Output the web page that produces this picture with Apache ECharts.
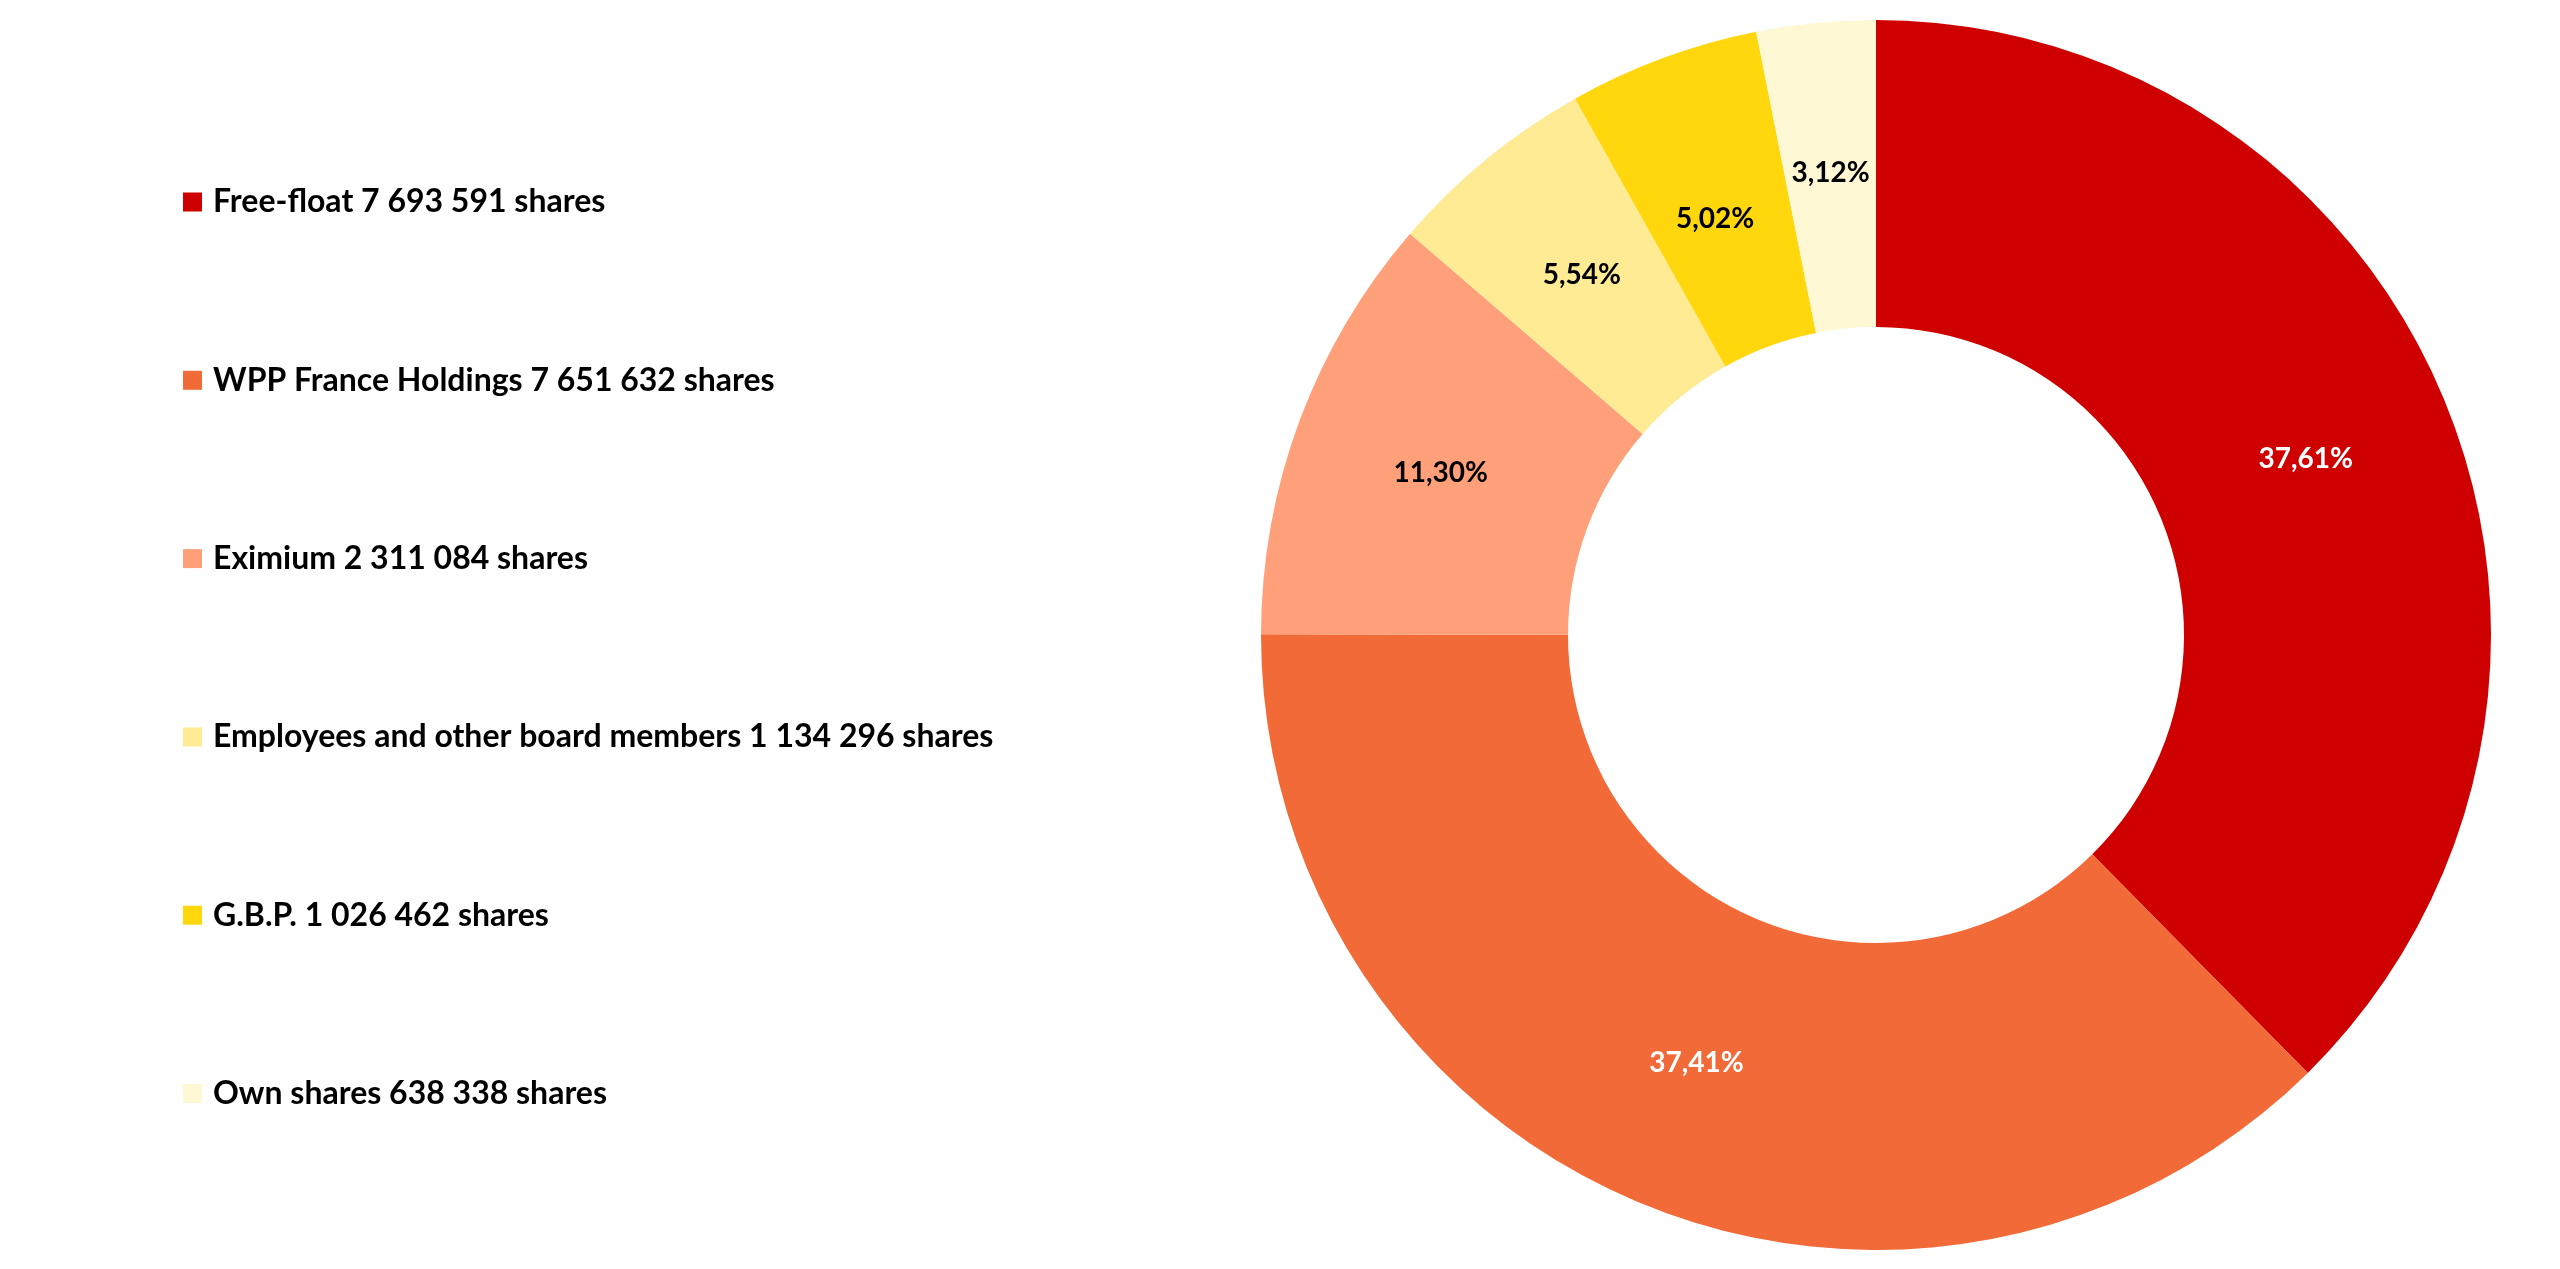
<!DOCTYPE html>
<html>
<head>
<meta charset="utf-8">
<title>Shareholding structure</title>
<script src="https://cdn.jsdelivr.net/npm/echarts@6/dist/echarts.min.js"></script>
<style>
    html, body { margin: 0; padding: 0; background: #ffffff; }
    #shareChart { width: 2560px; height: 1269px; }
</style>
</head>
<body>
<div id="shareChart"></div>
<script>
// 股东名称与持股数
const holders = ['Free-float', 'WPP France Holdings', 'Eximium', 'Employees and other board members', 'G.B.P.', 'Own shares'];
const shares = [7693591, 7651632, 2311084, 1134296, 1026462, 638338];

// 扇区颜色
const sliceColors = ['#CF0000', '#F26A37', '#FFA07A', '#FFEB94', '#FFD70C', '#FFF8D5'];
const labelColors = ['#ffffff', '#ffffff', '#000000', '#000000', '#000000', '#000000'];
// 标签微调（原图中 G.B.P. 标签略靠内）
const labelOffsets = [[0, 0], [0, 0], [0, 0], [0, 0], [0, 20], [0, 0]];

// 千分位用空格
function formatShares(n) {
    return String(n).replace(/\B(?=(\d{3})+(?!\d))/g, ' ');
}

document.addEventListener('DOMContentLoaded', function() {
    initShareChart();
});

function initShareChart() {
    const chartDom = document.getElementById('shareChart');
    const myChart = echarts.init(chartDom);
    const fontFamily = 'Lato, "Open Sans", sans-serif';

    const option = {
        animation: false,
        legend: {
            orient: 'vertical',
            left: 183,
            top: 186,
            padding: 0,
            itemWidth: 19,
            itemHeight: 19,
            itemGap: 146.3,
            icon: 'rect',
            selectedMode: false,
            data: holders,
            formatter: function(name) {
                const i = holders.indexOf(name);
                return name + ' ' + formatShares(shares[i]) + ' shares';
            },
            textStyle: {
                fontFamily: fontFamily,
                fontWeight: 'bold',
                fontSize: 32,
                lineHeight: 32,
                color: '#000000',
                padding: [0, 0, 0, 6]
            }
        },
        series: [
            {
                name: 'Shareholding',
                type: 'pie',
                center: [1876, 635],
                radius: [308, 615],
                startAngle: 90,
                clockwise: true,
                avoidLabelOverlap: false,
                emphasis: { disabled: true },
                label: {
                    show: true,
                    position: 'inside',
                    fontFamily: fontFamily,
                    fontWeight: 'bold',
                    fontSize: 28,
                    formatter: function(params) {
                        return params.percent.toFixed(2).replace('.', ',') + '%';
                    }
                },
                labelLine: { show: false },
                data: holders.map(function(name, i) {
                    return {
                        name: name,
                        value: shares[i],
                        itemStyle: { color: sliceColors[i] },
                        label: { color: labelColors[i], offset: labelOffsets[i] }
                    };
                })
            }
        ]
    };
    myChart.setOption(option);
}
</script>
</body>
</html>
